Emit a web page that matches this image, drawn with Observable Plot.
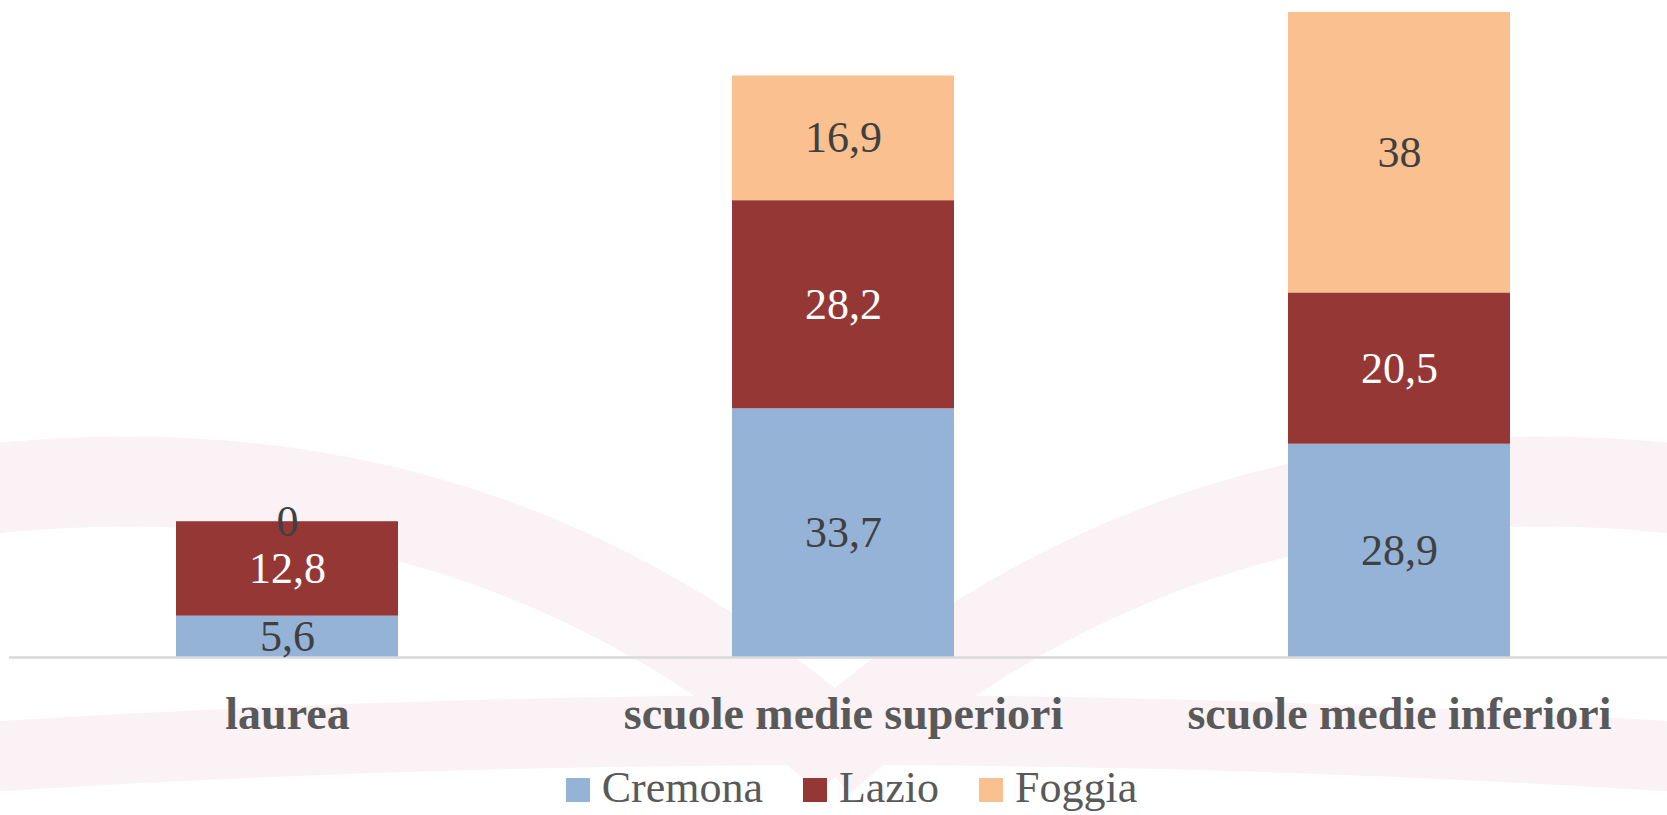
<!DOCTYPE html>
<html>
<head>
<meta charset="utf-8">
<script src="https://cdn.jsdelivr.net/npm/d3@7"></script>
<script src="https://cdn.jsdelivr.net/npm/@observablehq/plot@0.6"></script>
<style>
  html, body { margin: 0; padding: 0; background: #ffffff; }
  body { width: 1667px; height: 815px; position: relative; overflow: hidden; font-family: "Liberation Serif", "DejaVu Serif", serif; }
  #bg { position: absolute; left: 0; top: 0; z-index: 0; }
  #wrap { position: relative; z-index: 1; }
  #legend { display: flex; justify-content: center; padding-left: 36px; margin-top: 6px; font-size: 44px; line-height: 44px; color: #595959; }
  .item { margin: 0 20px; white-space: nowrap; }
  .sw { display: inline-block; width: 24px; height: 24px; vertical-align: baseline; margin-right: 12px; }
</style>
</head>
<body>
<svg id="bg" width="1667" height="815" xmlns="http://www.w3.org/2000/svg">
  <g fill="none" stroke="#faf2f4" stroke-linecap="butt">
    <path d="M -60 495 Q 470 420 850 760" stroke-width="90"/>
    <path d="M 1727 495 Q 1200 420 820 760" stroke-width="90"/>
    <path d="M -60 760 Q 833 700 1727 760" stroke-width="70"/>
  </g>
</svg>
<div id="wrap">
  <div id="chart"></div>
  <div id="legend"></div>
</div>
<script>
const categories = ["laurea", "scuole medie superiori", "scuole medie inferiori"];
const seriesNames = ["Cremona", "Lazio", "Foggia"];
const cremona = [5.6, 33.7, 28.9];
const lazio = [12.8, 28.2, 20.5];
const foggia = [0, 16.9, 38];
const seriesColors = ["#95b3d7", "#953735", "#fac090"];
const labelColors = ["#404040", "#ffffff", "#404040"];

const valuesBySeries = [cremona, lazio, foggia];
const rows = [];
categories.forEach((c, i) => {
  seriesNames.forEach((s, j) => {
    rows.push({cat: c, series: s, value: valuesBySeries[j][i], labelColor: labelColors[j]});
  });
});
const totals = categories.map((c, i) => valuesBySeries.reduce((a, v) => a + v[i], 0));
const fmt = v => String(v).replace(".", ",");

const W = 1667, H = 760;
const textMark = (col) => Plot.text(rows, Plot.stackY({
  x: "cat", y: "value", z: "series", order: seriesNames,
  text: d => (d.labelColor === col ? fmt(d.value) : ""),
  fill: col, fontSize: 44, fontFamily: "Liberation Serif, serif"
}));

const chart = Plot.plot({
  width: W,
  height: H,
  marginLeft: 9,
  marginRight: 0,
  marginTop: 12,
  marginBottom: 103,
  style: {background: "transparent", fontFamily: "Liberation Serif, serif"},
  x: {domain: categories, range: [9, 1677], paddingInner: 0.6, paddingOuter: 0.3, label: null},
  y: {domain: [0, d3.max(totals)], axis: null},
  color: {domain: seriesNames, range: seriesColors},
  marks: [
    Plot.barY(rows, {x: "cat", y: "value", fill: "series", order: seriesNames}),
    Plot.ruleY([0], {stroke: "#d9d9d9", strokeWidth: 2.5}),
    textMark("#404040"),
    textMark("#ffffff"),
    Plot.axisX({tickSize: 0, tickPadding: 39, fontSize: 46, fontWeight: "bold", fill: "#595959", fontFamily: "Liberation Serif, serif", label: null})
  ]
});
document.getElementById("chart").appendChild(chart);

const legend = document.getElementById("legend");
seriesNames.forEach((s, j) => {
  const it = document.createElement("span");
  it.className = "item";
  const sw = document.createElement("span");
  sw.className = "sw";
  sw.style.background = seriesColors[j];
  it.appendChild(sw);
  it.appendChild(document.createTextNode(s));
  legend.appendChild(it);
});
</script>
</body>
</html>
